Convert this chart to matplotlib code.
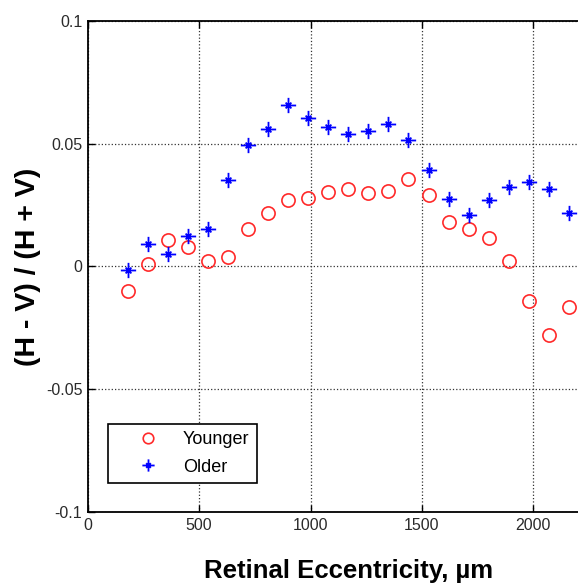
import matplotlib
matplotlib.use("Agg")
import matplotlib.pyplot as plt
from matplotlib.path import Path
import numpy as np

plt.rcParams['font.family'] = ['Liberation Sans', 'DejaVu Sans']

# Retinal eccentricity (um) of each sample
eccentricity = [180, 270, 360, 450, 540, 630, 720, 810, 900, 990, 1080, 1170,
                1260, 1350, 1440, 1530, 1620, 1710, 1800, 1890, 1980, 2070, 2160]

# (H - V) / (H + V) anisotropy index
younger = [-0.0101, 0.0011, 0.0106, 0.0081, 0.0022, 0.0040, 0.0152, 0.0218,
           0.0270, 0.0281, 0.0305, 0.0316, 0.0299, 0.0309, 0.0357, 0.0293,
           0.0182, 0.0152, 0.0116, 0.0022, -0.0142, -0.0278, -0.0166]
older = [-0.0014, 0.0093, 0.0049, 0.0123, 0.0151, 0.0352, 0.0494, 0.0559,
         0.0657, 0.0605, 0.0570, 0.0540, 0.0552, 0.0582, 0.0516, 0.0393,
         0.0275, 0.0211, 0.0270, 0.0322, 0.0346, 0.0316, 0.0219]

x_ticks = [0, 500, 1000, 1500, 2000]
y_ticks = [-0.1, -0.05, 0, 0.05, 0.1]
y_tick_labels = ['-0.1', '-0.05', '0', '0.05', '0.1']

# asterisk marker: long horizontal/vertical arms, short diagonal arms
d = 0.38
asterisk = Path(
    [(-1, 0), (1, 0), (0, -1), (0, 1), (-d, -d), (d, d), (-d, d), (d, -d)],
    [Path.MOVETO, Path.LINETO] * 4,
)

fig = plt.figure(figsize=(5.78, 5.85), dpi=100)
# axes run past the right edge of the canvas
ax = fig.add_axes([0.152, 0.1248, 0.963, 0.8393])

ax.plot(eccentricity, younger, linestyle='none', marker='o', markersize=9.5,
        markerfacecolor='none', markeredgecolor='#ff2a2a', markeredgewidth=1.2,
        label='Younger')
ax.plot(eccentricity, older, linestyle='none', marker=asterisk, markersize=11,
        color='#0000ff', markeredgewidth=1.3, label='Older')

ax.set_xlim(0, 2500)
ax.set_ylim(-0.1, 0.1)
ax.set_xticks(x_ticks)
ax.set_xticklabels([str(t) for t in x_ticks])
ax.set_yticks(y_ticks)
ax.set_yticklabels(y_tick_labels)

ax.grid(True, color='#333333', linestyle=':', linewidth=0.9)
ax.tick_params(direction='in', length=5, width=1, labelsize=11.5,
               top=True, right=True, pad=4, labelcolor='#2a2a2a')
for sp in ax.spines.values():
    sp.set_linewidth(1.3)

ax.set_xlabel('Retinal Eccentricity, \u00b5m', fontsize=18.5, fontweight='bold')
ax.xaxis.set_label_coords(0.468, -0.096)
ax.set_ylabel('(H - V) / (H + V)', fontsize=20.5, fontweight='bold')
ax.yaxis.set_label_coords(-0.084, 0.5)

leg = ax.legend(loc='lower left', bbox_to_anchor=(0.036, 0.059),
                borderaxespad=0, fancybox=False, edgecolor='black',
                framealpha=1, fontsize=13, handletextpad=0.15, borderpad=0.4,
                labelspacing=0.6, handlelength=3.6, markerscale=0.8)
leg.get_frame().set_linewidth(1.2)

fig.savefig('out.png', dpi=100)
